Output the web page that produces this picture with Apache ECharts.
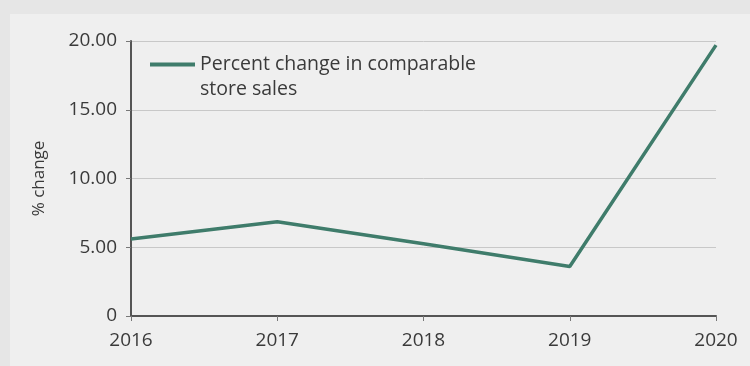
<!DOCTYPE html>
<html>
<head>
<meta charset="utf-8">
<script src="https://cdn.jsdelivr.net/npm/echarts@6/dist/echarts.min.js"></script>
<style>
  html, body { margin: 0; padding: 0; background: #e6e6e6; }
  #chart { width: 750px; height: 366px; }
</style>
</head>
<body>
<div id="chart"></div>
<script>
// Comparable store sales, yearly percent change
const years = ['2016', '2017', '2018', '2019', '2020'];
const pctChange = [5.6, 6.85, 5.25, 3.6, 19.7];
const seriesName = 'Percent change in comparable\nstore sales';
const yTicks = { min: 0, max: 20, step: 5 };

const FONT = '"Open Sans", sans-serif';
const TEXT = '#3a3a3a';
const LINE = '#3f7c6b';

const chart = echarts.init(document.getElementById('chart'));
chart.setOption({
  backgroundColor: '#e6e6e6',
  animation: false,
  graphic: [{
    type: 'rect',
    z: -10,
    shape: { x: 10, y: 14, width: 740, height: 352 },
    style: { fill: '#efefef' },
    silent: true
  }],
  grid: { left: 131, right: 34, top: 41, bottom: 50 },
  legend: {
    left: 145,
    top: 22,
    itemWidth: 45,
    itemHeight: 4,
    icon: 'rect',
    data: [seriesName],
    // an empty leading line keeps the swatch level with the first text line
    formatter: name => '\n' + name,
    textStyle: { fontFamily: FONT, fontSize: 19.5, color: TEXT, lineHeight: 25 }
  },
  xAxis: {
    type: 'category',
    data: years,
    boundaryGap: false,
    axisLine: { lineStyle: { color: '#555', width: 2 } },
    axisTick: { alignWithLabel: true, length: 5, lineStyle: { color: '#777' } },
    axisLabel: { fontFamily: FONT, fontSize: 19, color: TEXT, margin: 15 }
  },
  yAxis: {
    type: 'value',
    min: yTicks.min,
    max: yTicks.max,
    interval: yTicks.step,
    name: '% change',
    nameLocation: 'middle',
    nameGap: 83,
    nameTextStyle: { fontFamily: FONT, fontSize: 17, color: TEXT },
    axisLine: { show: true, lineStyle: { color: '#555', width: 2 } },
    axisTick: { show: true, length: 5, lineStyle: { color: '#777' } },
    splitLine: { lineStyle: { color: '#c8c8c8', width: 1 } },
    axisLabel: {
      fontFamily: FONT, fontSize: 19, color: TEXT, margin: 14,
      formatter: v => v === 0 ? '0' : v.toFixed(2)
    }
  },
  series: [{
    name: seriesName,
    type: 'line',
    data: pctChange,
    showSymbol: false,
    lineStyle: { color: LINE, width: 3.5 },
    itemStyle: { color: LINE }
  }]
});
</script>
</body>
</html>
